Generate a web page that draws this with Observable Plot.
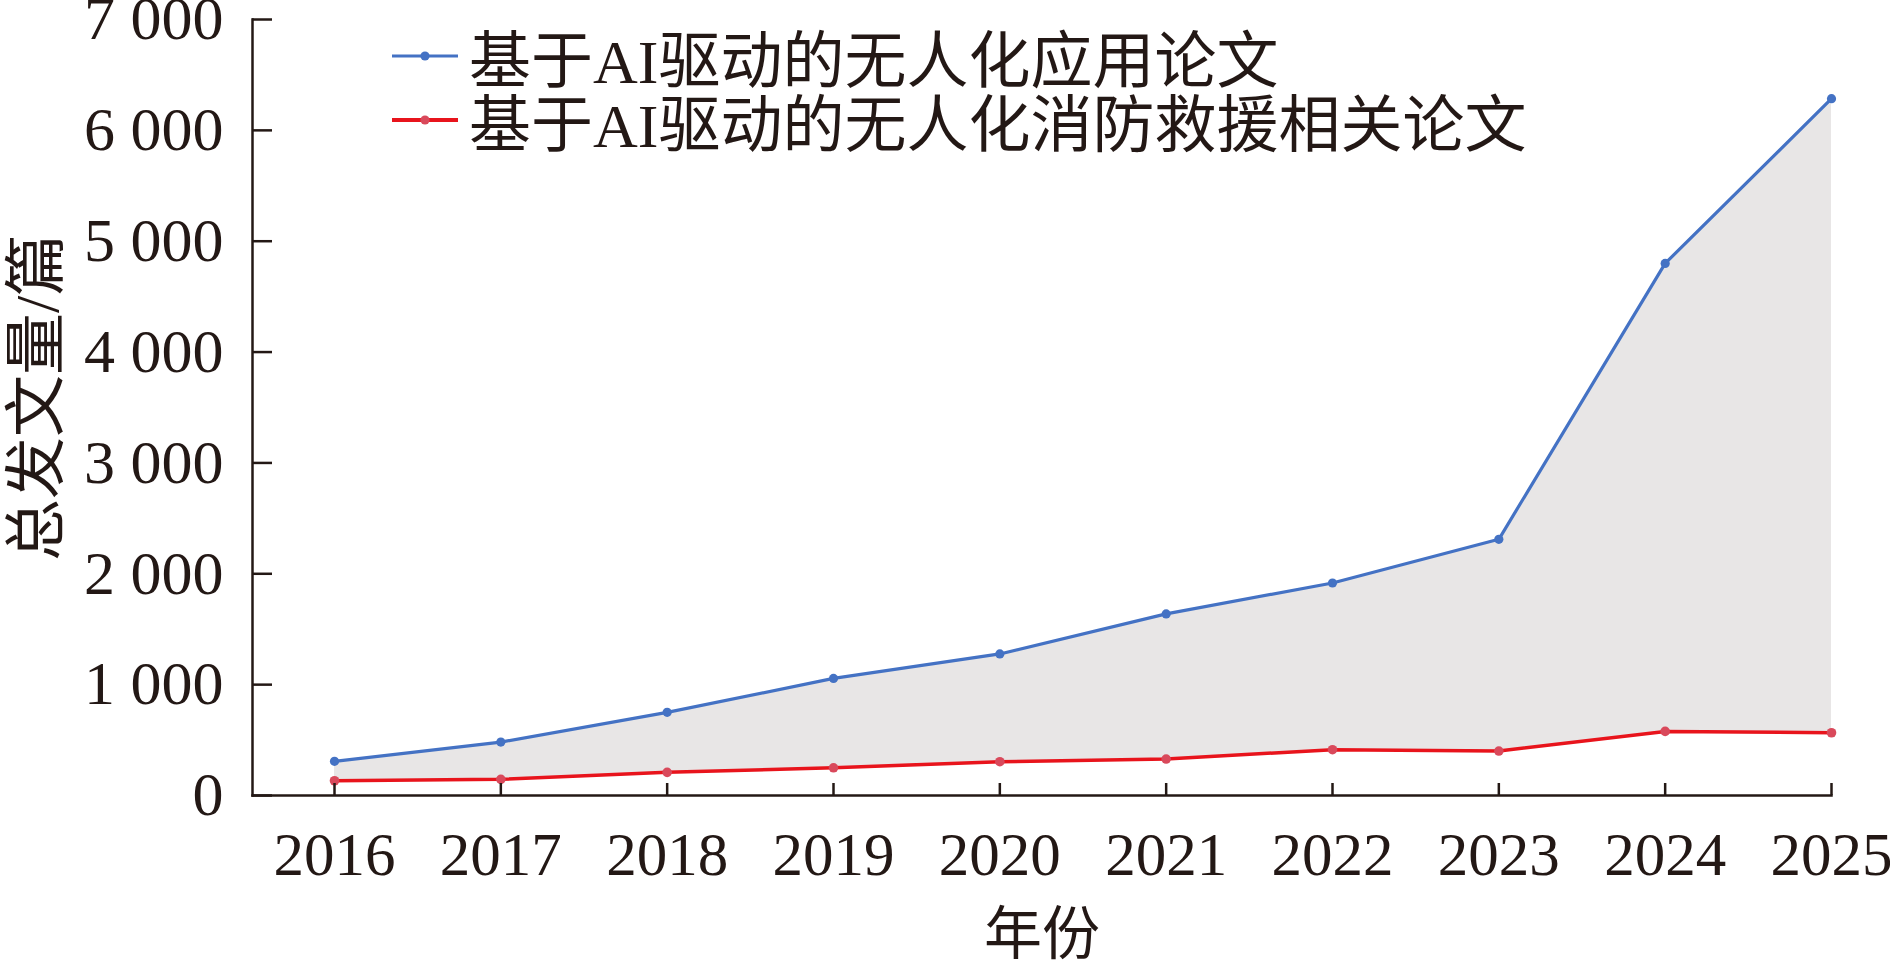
<!DOCTYPE html>
<html>
<head>
<meta charset="utf-8">
<script src="https://cdn.jsdelivr.net/npm/d3@7"></script>
<script src="https://cdn.jsdelivr.net/npm/@observablehq/plot@0.6"></script>
<style>
  html, body { margin: 0; padding: 0; background: #fff; }
  #wrap { position: relative; width: 1890px; height: 970px; overflow: hidden; }
  #legend { position: absolute; left: 392px; top: 0; font-family: "Liberation Serif", "Noto Sans CJK SC", serif; font-size: 62px; color: #231815; }
  .row { position: absolute; left: 0; height: 70px; display: flex; align-items: center; white-space: nowrap; }
  .row svg { margin-right: 11px; }
</style>
</head>
<body>
<div id="wrap"><div id="legend"></div></div>
<script>
// ---- data ----
const years = [2016, 2017, 2018, 2019, 2020, 2021, 2022, 2023, 2024, 2025];
const appPapers = [308, 482, 750, 1056, 1277, 1638, 1917, 2311, 4800, 6286];
const firePapers = [133, 146, 209, 250, 305, 329, 413, 401, 578, 566];
const yTicks = [0, 1000, 2000, 3000, 4000, 5000, 6000, 7000];
const seriesNames = ["基于AI驱动的无人化应用论文", "基于AI驱动的无人化消防救援相关论文"];
const xTitle = "年份";
const yTitle = "总发文量/篇";

// ---- styles ----
const ink = "#231815";
const blue = "#4472c4";
const red = "#e8141c";
const redDot = "#d9495b";
const fillGray = "#e8e6e6";
const serif = "Liberation Serif, Noto Sans CJK SC, serif";

const table = years.map((y, i) => ({year: y, app: appPapers[i], fire: firePapers[i]}));

const W = 1890, H = 970, mL = 252, mR = 59, mT = 19, mB = 175;
const frameW = W - mL - mR, frameH = H - mT - mB;

const fmt = d => d3.format(",")(d).replace(/,/g, " ");

const chart = Plot.plot({
  width: W,
  height: H,
  marginLeft: mL,
  marginRight: mR,
  marginTop: mT,
  marginBottom: mB,
  style: {background: "transparent", overflow: "visible"},
  x: {type: "linear", domain: [years[0], years[years.length - 1]], insetLeft: 82, label: null},
  y: {domain: [yTicks[0], yTicks[yTicks.length - 1]], label: null},
  marks: [
    Plot.areaY(table, {x: "year", y1: "fire", y2: "app", fill: fillGray}),
    Plot.line(table, {x: "year", y: "fire", stroke: red, strokeWidth: 3.5}),
    Plot.line(table, {x: "year", y: "app", stroke: blue, strokeWidth: 3.2}),
    Plot.dot(table, {x: "year", y: "fire", r: 4.8, fill: redDot}),
    Plot.dot(table, {x: "year", y: "app", r: 4.6, fill: blue}),
    Plot.frame({anchor: "left", stroke: ink, strokeWidth: 2.5}),
    Plot.frame({anchor: "bottom", stroke: ink, strokeWidth: 2.5}),
    Plot.tickY(yTicks, {y: d => d, insetRight: frameW - 20, stroke: ink, strokeWidth: 2.5}),
    Plot.tickX(years, {x: d => d, insetTop: frameH - 12, stroke: ink, strokeWidth: 2.5}),
    Plot.axisY(yTicks, {tickSize: 0, tickPadding: 29, tickFormat: fmt, fontSize: 62, fontFamily: "Liberation Serif", fill: ink, label: null}),
    Plot.axisX(years, {tickSize: 0, tickPadding: 36, tickFormat: d => String(d), fontSize: 61, fontFamily: "Liberation Serif", fill: ink, label: null}),
    Plot.text([yTitle], {text: d => d, frameAnchor: "left", textAnchor: "middle", dx: -214, dy: -10, rotate: -90, fontSize: 62, fontFamily: serif, fill: ink}),
    Plot.text([xTitle], {text: d => d, frameAnchor: "bottom", textAnchor: "middle", dy: 158, fontSize: 58, fontFamily: serif, fill: ink})
  ]
});
document.getElementById("wrap").prepend(chart);
chart.style.position = "absolute";
chart.style.left = "0";
chart.style.top = "0";

// ---- legend ----
const legend = document.getElementById("legend");
const rowCenters = [56, 120];
const lineW = [3, 4];
const lineColors = [blue, red];
const dotColors = [blue, redDot];
seriesNames.forEach((name, i) => {
  const row = document.createElement("div");
  row.className = "row";
  row.style.top = (rowCenters[i] - 35) + "px";
  row.innerHTML = `<svg width="66" height="14"><line x1="0" y1="7" x2="66" y2="7" stroke="${lineColors[i]}" stroke-width="${lineW[i]}"/><circle cx="33" cy="7" r="4.6" fill="${dotColors[i]}"/></svg><span>${name}</span>`;
  legend.appendChild(row);
});
</script>
</body>
</html>
